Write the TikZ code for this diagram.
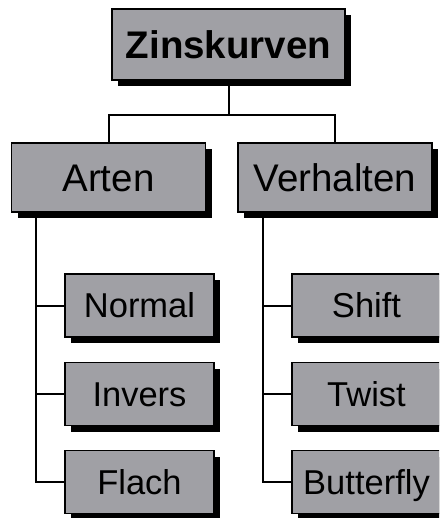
\documentclass[tikz,border=0pt]{standalone}
\usepackage{fontspec}
\setmainfont{Liberation Sans}
\usetikzlibrary{shadows}
\definecolor{boxgray}{RGB}{160,160,165}
\tikzset{
  box/.style={draw=black, line width=1.8pt, fill=boxgray, inner sep=0pt,
    text depth=0pt,
    drop shadow={shadow xshift=6pt, shadow yshift=-6pt, fill=black, opacity=1}},
  topbox/.style={box, minimum width=233pt, minimum height=71pt, text height=27.6pt,
    font=\fontsize{38.5}{40}\selectfont\bfseries},
  midbox/.style={box, minimum width=194pt, minimum height=69pt, text height=27.6pt,
    font=\fontsize{38.5}{40}\selectfont},
  leafbox/.style={box, minimum width=149pt, minimum height=63pt, text height=24.7pt,
    font=\fontsize{34.5}{36}\selectfont},
  link/.style={line width=2pt, black}
}
\begin{document}
\begin{tikzpicture}[x=1pt, y=-1pt]
  \useasboundingbox (0,0) rectangle (439,518);
  \clip (0,0) rectangle (439,518);

  % boxes
  \node[topbox]  (root) at (228.5,44.5) {Zinskurven};
  \node[midbox]  (arten) at (108.5,177.5) {Arten};
  \node[midbox]  (verh) at (335,177.5) {Verhalten};
  \node[leafbox] (normal) at (139.5,305.5) {Normal};
  \node[leafbox] (invers) at (139.5,394) {Invers};
  \node[leafbox] (flach) at (139.5,482) {Flach};
  \node[leafbox] (shift) at (366.5,305.5) {Shift};
  \node[leafbox] (twist) at (366.5,394) {Twist};
  \node[leafbox] (butter) at (366.5,482) {Butterfly};

  % connectors from the root to the two groups
  \coordinate (bar) at (228.5,115);
  \draw[link] (root.south) -- (bar);
  \draw[link] (arten.north) -- (arten.north |- bar) -- (verh.north |- bar) -- (verh.north);

  % left group
  \coordinate (lt) at (36,212);
  \draw[link] (lt) |- (flach.west);
  \draw[link] (lt |- normal.west) -- (normal.west);
  \draw[link] (lt |- invers.west) -- (invers.west);

  % right group
  \coordinate (rt) at (263,212);
  \draw[link] (rt) |- (butter.west);
  \draw[link] (rt |- shift.west) -- (shift.west);
  \draw[link] (rt |- twist.west) -- (twist.west);
\end{tikzpicture}
\end{document}
